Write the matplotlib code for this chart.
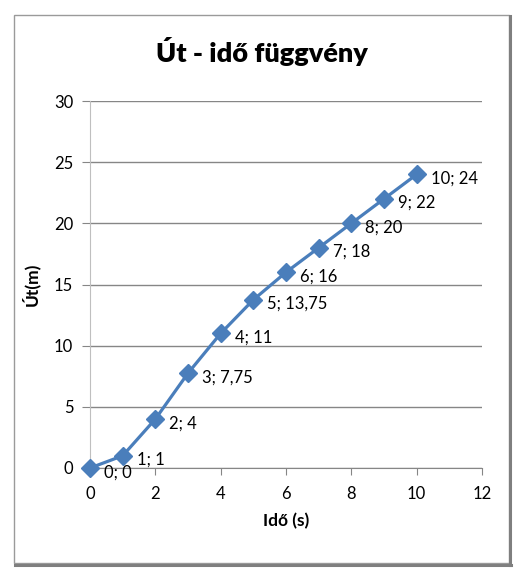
import matplotlib
matplotlib.use("Agg")
import matplotlib.pyplot as plt
from matplotlib.patches import Rectangle
from matplotlib.lines import Line2D

plt.rcParams['font.family'] = ['Lato', 'DejaVu Sans']

# data
ido = [0, 1, 2, 3, 4, 5, 6, 7, 8, 9, 10]
ut = [0, 1, 4, 7.75, 11, 13.75, 16, 18, 20, 22, 24]
cimkek = ["0; 0", "1; 1", "2; 4", "3; 7,75", "4; 11", "5; 13,75",
          "6; 16", "7; 18", "8; 20", "9; 22", "10; 24"]

W, H = 526, 579
fig = plt.figure(figsize=(W / 100, H / 100), dpi=100)

# chart border with shadow on right/bottom
fig.patches.append(Rectangle((14 / W, 1 - 563 / H), (509 - 14) / W, (563 - 15) / H,
                             transform=fig.transFigure, fill=False,
                             edgecolor="#9a9a9a", linewidth=1.0))
fig.lines.append(Line2D([510 / W, 510 / W], [1 - 565 / H, 1 - 16 / H],
                        transform=fig.transFigure, color="#7f7f7f", linewidth=2.2))
fig.lines.append(Line2D([15 / W, 511 / W], [1 - 564.5 / H, 1 - 564.5 / H],
                        transform=fig.transFigure, color="#7f7f7f", linewidth=2.2))

ax = fig.add_axes([90 / W, 1 - 468 / H, (482 - 90) / W, (468 - 101) / H])
ax.set_xlim(0, 12)
ax.set_ylim(0, 30)
ax.set_xticks(range(0, 13, 2))
ax.set_yticks(range(0, 31, 5))

ax.grid(axis="y", color="#868686", linewidth=1.0)
ax.set_axisbelow(True)
for s in ["top", "right"]:
    ax.spines[s].set_visible(False)
ax.spines["left"].set_color("#bfbfbf")
ax.spines["bottom"].set_color("#868686")
ax.tick_params(axis="y", length=6, color="#868686", labelsize=12, pad=6)
ax.tick_params(axis="x", length=5, color="#868686", labelsize=12, pad=8)

ax.plot(ido, ut, color="#4A7EBB", linewidth=2.3, marker="D", markersize=9,
        markerfacecolor="#4A7EBB", markeredgecolor="#4A7EBB", clip_on=False, zorder=3)

for x, y, t in zip(ido, ut, cimkek):
    ax.annotate(t, (x, y), xytext=(10, -3), textcoords="offset points",
                ha="left", va="center", fontsize=12)

ax.set_xlabel("Idő (s)", fontsize=12.5, fontweight="bold", labelpad=8)
ax.set_ylabel("Út(m)", fontsize=12.5, fontweight="bold", labelpad=10)
fig.text(262 / W, 1 - 52 / H, "Út - idő függvény", ha="center", va="center",
         fontsize=19.5, fontweight="heavy")

fig.savefig("out.png", dpi=100)
